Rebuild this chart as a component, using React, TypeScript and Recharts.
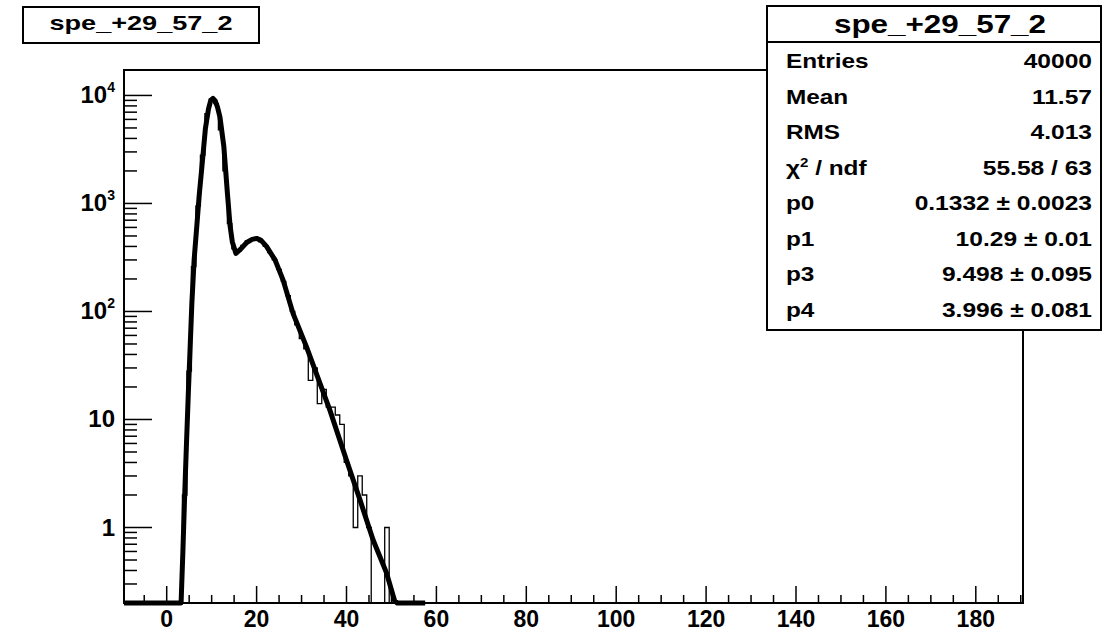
import { ComposedChart, Line, XAxis, YAxis } from 'recharts';

const HIST_NAME = 'spe_+29_57_2';

const WIDTH = 1103;
const HEIGHT = 631;
const MARGIN = { top: 70, right: 80, bottom: 0, left: 0 };
const Y_AXIS_WIDTH = 124;
const X_AXIS_HEIGHT = 28;
const PLOT_LEFT = MARGIN.left + Y_AXIS_WIDTH;
const PLOT_RIGHT = WIDTH - MARGIN.right;
const PLOT_TOP = MARGIN.top;
const PLOT_BOTTOM = HEIGHT - MARGIN.bottom - X_AXIS_HEIGHT;

const X_MIN = -9.5;
const X_MAX = 190.5;
const Y_MIN = 0.2;
const Y_MAX = 17200;

// histogram: unit-width bins centred on integers, first filled bin is 3
const HIST_FIRST_BIN = 3;
const histCounts = [
  0, 2, 28, 260, 950, 2800, 6800, 9300, 8400, 4800, 2000, 650, 380, 360, 410, 450, 470, 470, 440,
  400, 350, 300, 245, 190, 140, 100, 75, 56, 45, 23, 30, 14, 19, 13, 13, 11, 9, 4, 3, 1, 3, 2, 1,
  0, 0, 0, 1, 0,
];

// fitted function, sampled along its range (values under the axis floor sit on it)
const fitX = [
  -9.5, 2.5, 3.2, 3.6, 4.0, 4.4, 4.8, 5.2, 5.6, 6.1, 6.7, 7.2, 8.0, 8.6, 9.3, 9.8, 10.3, 10.8, 11.3,
  11.85, 12.7, 13.5, 14.1, 14.6, 15.4, 16.5, 17.8, 19.0, 20.0, 21.0, 22.2, 24.1, 25.9, 28.1, 31.1,
  36.3, 40.0, 43.0, 45.9, 48.9, 50.7, 51.3, 57.5,
];
const fitY = [
  0, 0, 0.2, 0.6, 2, 6, 17, 45, 120, 300, 620, 1150, 2600, 4900, 7500, 9000, 9400, 8900, 7800,
  6300, 3400, 1250, 620, 440, 345, 380, 435, 465, 475, 455, 400, 300, 195, 96, 47, 12.2, 4.2, 1.8,
  0.77, 0.38, 0.21, 0, 0,
];

const statLabels = ['Entries', 'Mean', 'RMS', 'chi2', 'p0', 'p1', 'p3', 'p4'];
const statValues = [
  '40000',
  '11.57',
  '4.013',
  '55.58 / 63',
  '0.1332 \u00b1 0.0023',
  '10.29 \u00b1 0.01',
  '9.498 \u00b1 0.095',
  '3.996 \u00b1 0.081',
];

const xMajorTicks = [0, 20, 40, 60, 80, 100, 120, 140, 160, 180];
const yDecades = [1, 10, 100, 1000, 10000];

const xTicks = [-5];
xMajorTicks.forEach((t) => xTicks.push(t, t + 5, t + 10, t + 15));
const xTicksInRange = xTicks.filter((t) => t >= X_MIN && t <= X_MAX);
const yTicks: number[] = [];
[0.1, 1, 10, 100, 1000, 10000].forEach((d) => {
  for (let m = 1; m <= 9; m++) {
    const v = +(m * d).toPrecision(3);
    if (v >= Y_MIN && v <= Y_MAX) yTicks.push(v);
  }
});

const floor = (v: number) => Math.max(v, Y_MIN);

const histPoints: { x: number; y: number }[] = [{ x: X_MIN, y: Y_MIN }];
histCounts.forEach((c, i) => histPoints.push({ x: HIST_FIRST_BIN + i - 0.5, y: floor(c) }));
histPoints.push({ x: HIST_FIRST_BIN + histCounts.length - 0.5, y: Y_MIN });
histPoints.push({ x: X_MAX, y: Y_MIN });

const fitPoints = fitX.map((x, i) => ({ x, y: floor(fitY[i]) }));

const FONT = '"Liberation Sans", Arial, Helvetica, sans-serif';

function XTick(props: any) {
  const { x, payload } = props;
  const v = payload.value as number;
  const major = v % 20 === 0;
  return (
    <g>
      <line x1={x} x2={x} y1={PLOT_BOTTOM} y2={PLOT_BOTTOM - (major ? 17 : 8)} stroke="#000" strokeWidth={1.5} />
      {major && (
        <text x={x} y={PLOT_BOTTOM + 24} textAnchor="middle" fontFamily={FONT} fontWeight="bold" fontSize={23} fill="#000">
          {v}
        </text>
      )}
    </g>
  );
}

function YTick(props: any) {
  const { y, payload } = props;
  const v = payload.value as number;
  const idx = yDecades.indexOf(v);
  const major = idx >= 0;
  return (
    <g>
      <line x1={PLOT_LEFT} x2={PLOT_LEFT + (major ? 28 : 13)} y1={y} y2={y} stroke="#000" strokeWidth={1.5} />
      {major && (
        <text x={PLOT_LEFT - 9} y={y + 8} textAnchor="end" fontFamily={FONT} fontWeight="bold" fontSize={24} fill="#000">
          {idx < 2 ? String(v) : '10'}
          {idx >= 2 && (
            <tspan fontSize={14} dy={-11}>
              {idx}
            </tspan>
          )}
        </text>
      )}
    </g>
  );
}

function StatLabel({ label }: { label: string }) {
  if (label !== 'chi2') return <>{label}</>;
  return (
    <>
      {'\u03c7'}
      <tspan fontSize={13} dy={-8}>2</tspan>
      <tspan dy={8}>{' / ndf'}</tspan>
    </>
  );
}

function Boxes() {
  const rowTop = 68;
  const rowStep = 35.5;
  return (
    <svg width={WIDTH} height={HEIGHT} style={{ position: 'absolute', left: 0, top: 0 }}>
      {/* plot frame */}
      <rect
        x={PLOT_LEFT}
        y={PLOT_TOP}
        width={PLOT_RIGHT - PLOT_LEFT}
        height={PLOT_BOTTOM - PLOT_TOP}
        fill="none"
        stroke="#000"
        strokeWidth={2}
      />

      {/* histogram title */}
      <rect x={23} y={7} width={236} height={36} fill="#fff" stroke="#000" strokeWidth={2} />
      <text x={141} y={30} textAnchor="middle" fontFamily={FONT} fontWeight="bold" fontSize={21} textLength={183} lengthAdjust="spacingAndGlyphs">
        {HIST_NAME}
      </text>

      {/* statistics box */}
      <rect x={767} y={6} width={334} height={324} fill="#fff" stroke="#000" strokeWidth={2} />
      <line x1={767} x2={1101} y1={42} y2={42} stroke="#000" strokeWidth={2} />
      <text x={940} y={33} textAnchor="middle" fontFamily={FONT} fontWeight="bold" fontSize={25} textLength={212} lengthAdjust="spacingAndGlyphs">
        {HIST_NAME}
      </text>
      {statLabels.map((label, i) => (
        <g key={label} fontFamily={FONT} fontWeight="bold" fontSize={21} fill="#000">
          <g transform={`translate(786, ${rowTop + i * rowStep}) scale(1.16, 1)`}>
            <text x={0} y={0}>
              <StatLabel label={label} />
            </text>
          </g>
          <g transform={`translate(1092, ${rowTop + i * rowStep}) scale(1.17, 1)`}>
            <text x={0} y={0} textAnchor="end">
              {statValues[i]}
            </text>
          </g>
        </g>
      ))}
    </svg>
  );
}

export default function App() {
  return (
    <div style={{ position: 'absolute', left: 0, top: 0, width: WIDTH, height: HEIGHT, background: '#fff' }}>
      <ComposedChart width={WIDTH} height={HEIGHT} margin={MARGIN}>
        <XAxis
          dataKey="x"
          type="number"
          domain={[X_MIN, X_MAX]}
          ticks={xTicksInRange}
          interval={0}
          height={X_AXIS_HEIGHT}
          tickSize={0}
          tick={<XTick />}
          axisLine={false}
        />
        <YAxis
          type="number"
          scale="log"
          domain={[Y_MIN, Y_MAX]}
          ticks={yTicks}
          interval={0}
          width={Y_AXIS_WIDTH}
          tickSize={0}
          tick={<YTick />}
          axisLine={false}
        />
        <Line
          data={histPoints}
          dataKey="y"
          type="stepAfter"
          stroke="#000"
          strokeWidth={1.3}
          dot={false}
          isAnimationActive={false}
        />
        <Line
          data={fitPoints}
          dataKey="y"
          type="linear"
          stroke="#000"
          strokeWidth={5}
          strokeLinejoin="round"
          dot={false}
          isAnimationActive={false}
        />
      </ComposedChart>
      <Boxes />
    </div>
  );
}
